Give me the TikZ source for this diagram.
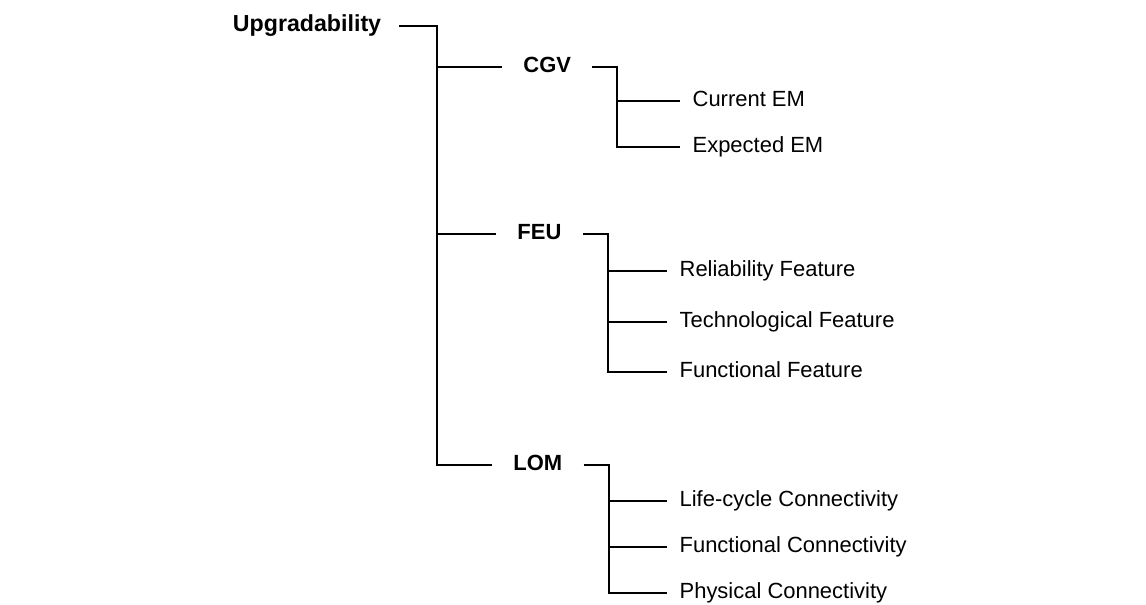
\documentclass[tikz,border=0pt]{standalone}
\usepackage{fontspec}
\setmainfont{Liberation Sans}
\usepackage{tikz}

\tikzset{
  rootbox/.style={anchor=west, inner xsep=10pt, inner ysep=0pt, text height=0.66em, text depth=0pt, font=\fontsize{13.2pt}{15pt}\selectfont\bfseries},
  groupbox/.style={anchor=west, inner xsep=12pt, inner ysep=0pt, text height=0.66em, text depth=0pt, font=\fontsize{12.5pt}{15pt}\selectfont\bfseries},
  leafbox/.style={anchor=west, inner xsep=7pt, inner ysep=0pt, text height=0.66em, text depth=0pt, font=\fontsize{12.5pt}{15pt}\selectfont},
  link/.style={line width=0.7pt}
}

\begin{document}
\begin{tikzpicture}[x=0.02cm, y=-0.02cm]
            \useasboundingbox (0,0) rectangle (1146,605);

            % Root
            \node[rootbox] (upg) at (215,26) {Upgradability};

            % Groups
            \node[groupbox] (cgv) at (502,67) {CGV};
            \node[groupbox] (feu) at (496,234) {FEU};
            \node[groupbox] (lom) at (492,465) {LOM};

            % CGV leaves
            \node[leafbox] (current) at (680,101) {Current EM};
            \node[leafbox] (expected) at (680,147) {Expected EM};

            % FEU leaves
            \node[leafbox] (reliab) at (667,271) {Reliability Feature};
            \node[leafbox] (techno) at (667,322) {Technological Feature};
            \node[leafbox] (funcfeat) at (667,372) {Functional Feature};

            % LOM leaves
            \node[leafbox] (lifecyc) at (667,501) {Life-cycle Connectivity};
            \node[leafbox] (funcconn) at (667,547) {Functional Connectivity};
            \node[leafbox] (physconn) at (667,593) {Physical Connectivity};

            % Bars
            \coordinate (trunk) at (437,200);
            \coordinate (cgvbar) at (617,100);
            \coordinate (feubar) at (608,300);
            \coordinate (lombar) at (609,530);

            % Links
            \draw[link] (upg.east) -| (trunk) |- (lom.west);
            \draw[link] (trunk |- cgv.west) -- (cgv.west);
            \draw[link] (trunk |- feu.west) -- (feu.west);

            \draw[link] (cgv.east) -| (cgvbar) |- (expected.west);
            \draw[link] (cgvbar |- current.west) -- (current.west);

            \draw[link] (feu.east) -| (feubar) |- (funcfeat.west);
            \draw[link] (feubar |- reliab.west) -- (reliab.west);
            \draw[link] (feubar |- techno.west) -- (techno.west);

            \draw[link] (lom.east) -| (lombar) |- (physconn.west);
            \draw[link] (lombar |- lifecyc.west) -- (lifecyc.west);
            \draw[link] (lombar |- funcconn.west) -- (funcconn.west);
        \end{tikzpicture}
\end{document}
